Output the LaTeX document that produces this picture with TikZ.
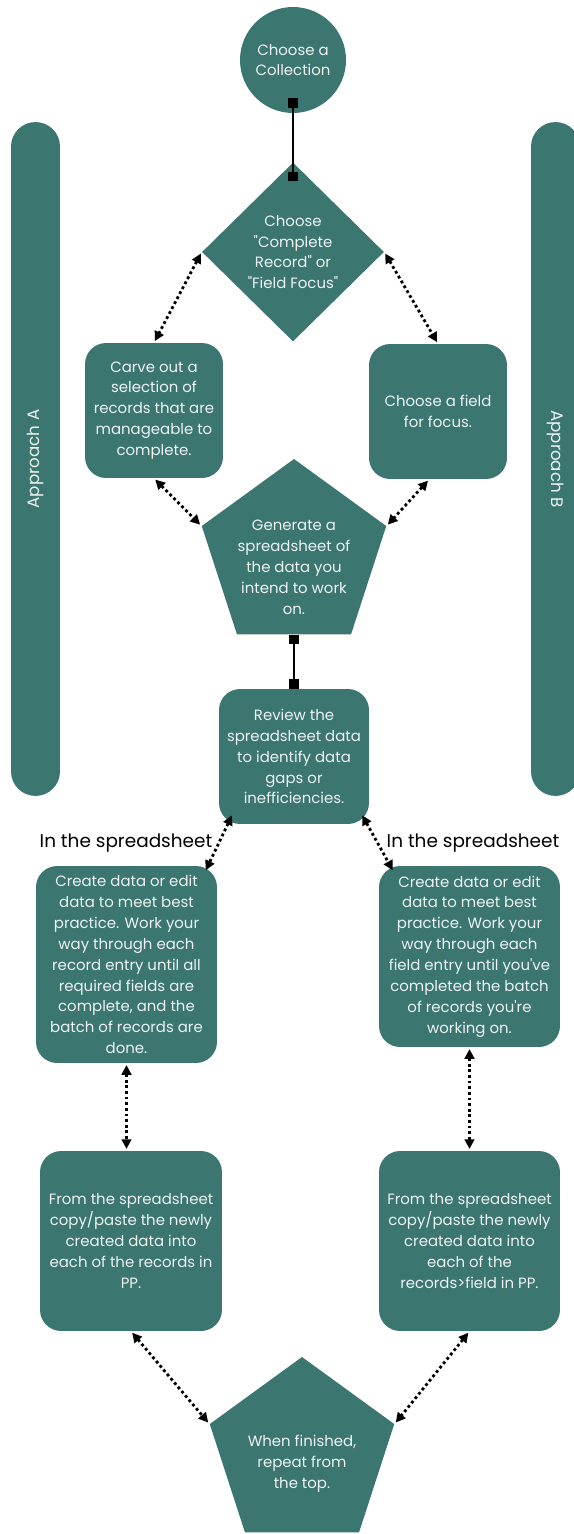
\documentclass[tikz,border=0pt]{standalone}
\usepackage{fontspec}
\newfontfamily\flowfont{Poppins}
\usetikzlibrary{positioning, shapes.geometric, arrows.meta}
\definecolor{flowteal}{HTML}{3B7671}
\definecolor{flowtext}{HTML}{EEF4F2}

\begin{document}
\begin{tikzpicture}[x=0.02cm, y=0.02cm, font=\flowfont\fontsize{8.5}{11.9}\selectfont,
    card/.style={fill=flowteal, text=flowtext, rounded corners=12pt, align=center, inner sep=2pt},
    bar/.style={fill=flowteal, text=flowtext, rounded corners=0.49cm, minimum width=13.48cm, minimum height=0.98cm, font=\flowfont\fontsize{9.5}{12}\selectfont},
    pent/.style={regular polygon, regular polygon sides=5, fill=flowteal, minimum size=3.88cm, inner sep=0pt},
    inside/.style={text=flowtext, align=center},
    solidlink/.style={line width=1.5pt, {Square[length=5.5pt,width=5.5pt]}-{Square[length=5.5pt,width=5.5pt]}},
    dotlink/.style={line width=1.6pt, dash pattern=on 1.6pt off 1.6pt, {Triangle[length=5.5pt,width=5.5pt]}-{Triangle[length=5.5pt,width=5.5pt]}, shorten <=1pt, shorten >=1pt},
    side/.style={font=\flowfont\fontsize{10.5}{12}\selectfont}]
    \useasboundingbox (0,0) rectangle (574,-1534);

    \node[circle, fill=flowteal, text=flowtext, minimum size=2.12cm, align=center] (coll) at (293,-60) {Choose a\\Collection};
    \node[diamond, fill=flowteal, minimum width=3.64cm, minimum height=3.58cm, inner sep=0pt] (mode) at (293,-252) {};
    \node[inside] (modetxt) at (mode.center) {Choose\\"Complete\\Record" or\\"Field Focus"};

    \node[bar, rotate=90] (barA) at (35.5,-459) {Approach A};
    \node[bar, rotate=-90] (barB) at (555.5,-459) {Approach B};

    \node[card, minimum width=2.76cm, minimum height=2.7cm] (carve) at (154,-410.5) {Carve out a\\selection of\\records that are\\manageable to\\complete.};
    \node[card, minimum width=2.76cm, minimum height=2.7cm] (pick) at (438,-411.5) {Choose a field\\for focus.};
    \node[pent] (gen) at (294,-556) {};
    \node[inside] (gentxt) at (294,-567) {Generate a\\spreadsheet of\\the data you\\intend to work\\on.};
    \node[card, minimum width=3cm, minimum height=2.7cm] (review) at (294,-756.5) {Review the\\spreadsheet data\\to identify data\\gaps or\\inefficiencies.};
    \node[side] (noteA) at (126,-843) {In the spreadsheet};
    \node[side] (noteB) at (473,-843) {In the spreadsheet};

    \node[card, minimum width=3.62cm, minimum height=3.94cm] (editA) at (126.5,-964.5) {Create data or edit\\data to meet best\\practice. Work your\\way through each\\record entry until all\\required fields are\\complete, and the\\batch of records are\\done.};
    \node[card, minimum width=3.62cm, minimum height=3.62cm] (editB) at (469.5,-956.5) {Create data or edit\\data to meet best\\practice. Work your\\way through each\\field entry until you've\\completed the batch\\of records you're\\working on.};
    \node[card, minimum width=3.64cm, minimum height=3.6cm] (copyA) at (131,-1241) {From the spreadsheet\\copy/paste the newly\\created data into\\each of the records in\\PP.};
    \node[card, minimum width=3.62cm, minimum height=3.6cm] (copyB) at (469.5,-1241) {From the spreadsheet\\copy/paste the newly\\created data into\\each of the\\records>field in PP.};
    \node[pent] (finish) at (302,-1454) {};
    \node[inside] (finishtxt) at (302,-1464) {When finished,\\repeat from\\the top.};

    \draw[solidlink] ([yshift=8.5pt]coll.south) -- ([yshift=-11pt]mode.north);
    \draw[solidlink] (gen.side 3) -- (review.north);
    \draw[dotlink] (mode.west) -- (carve.north);
    \draw[dotlink] (mode.east) -- (pick.north);
    \draw[dotlink] (carve.south) -- (gen.corner 2);
    \draw[dotlink] ([xshift=-5pt]pick.south) -- (gen.corner 5);
    \draw[dotlink] ([xshift=8pt,yshift=6pt]review.south west) -- ([xshift=-7pt,yshift=-3.5pt]editA.north east);
    \draw[dotlink] ([xshift=-4.5pt,yshift=6pt]review.south east) -- ([xshift=8.5pt,yshift=-3.5pt]editB.north west);
    \draw[dotlink] (editA.south) -- (editA.south |- copyA.north);
    \draw[dotlink] (editB.south) -- (copyB.north);
    \draw[dotlink] (copyA.south) -- (finish.corner 2);
    \draw[dotlink] (copyB.south) -- (finish.corner 5);
\end{tikzpicture}
\end{document}
